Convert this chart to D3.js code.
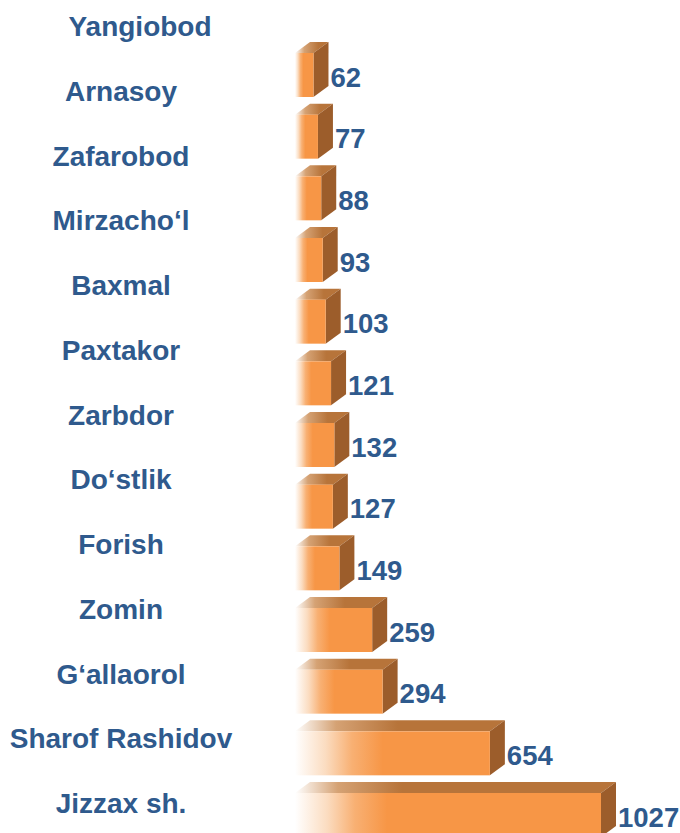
<!DOCTYPE html>
<html>
<head>
<meta charset="utf-8">
<script src="https://cdn.jsdelivr.net/npm/d3@7"></script>
<style>
  body { margin: 0; background: #fff; }
  text { font-family: "Liberation Sans", Arial, sans-serif; font-weight: bold; fill: #2F5A8D; }
</style>
</head>
<body>
<svg id="chart"></svg>
<script>
// districts, top to bottom
var districts = ["Yangiobod", "Arnasoy", "Zafarobod", "Mirzacho\u2018l", "Baxmal", "Paxtakor",
  "Zarbdor", "Do\u2018stlik", "Forish", "Zomin", "G\u2018allaorol", "Sharof Rashidov", "Jizzax sh."];
var counts = [62, 77, 88, 93, 103, 121, 132, 127, 149, 259, 294, 654, 1027];

var width = 680, height = 833;
var barH = 44, depthX = 15, depthY = 11;

var svg = d3.select('#chart').attr('width', width).attr('height', height);
var defs = svg.append('defs');

// bars and labels don't share the same vertical spacing in the original
var yBar = d3.scalePoint().domain(d3.range(counts.length)).range([75, 815]);
var yLab = d3.scalePoint().domain(d3.range(districts.length)).range([36, 813]);
var x = d3.scaleLinear().domain([0, d3.max(counts)]).range([295, 601]);

var data = counts.map(function(v, i) { return { name: districts[i], value: v, i: i }; });

// left edge of every bar fades out to white
data.forEach(function(d) {
  var w = x(d.value) - x(0);
  var fade = Math.min(w * 0.45, 92);
  var gf = defs.append('linearGradient').attr('id', 'gf' + d.i)
    .attr('gradientUnits', 'userSpaceOnUse')
    .attr('x1', x(0)).attr('x2', x(0) + fade).attr('y1', 0).attr('y2', 0);
  gf.append('stop').attr('offset', 0).attr('stop-color', '#FFFFFF');
  gf.append('stop').attr('offset', 0.35).attr('stop-color', '#FBDCC0');
  gf.append('stop').attr('offset', 0.65).attr('stop-color', '#F8B073');
  gf.append('stop').attr('offset', 1).attr('stop-color', '#F79646');
  var gt = defs.append('linearGradient').attr('id', 'gt' + d.i)
    .attr('gradientUnits', 'userSpaceOnUse')
    .attr('x1', x(0)).attr('x2', x(0) + fade + depthX).attr('y1', 0).attr('y2', 0);
  gt.append('stop').attr('offset', 0).attr('stop-color', '#FFFFFF');
  gt.append('stop').attr('offset', 0.4).attr('stop-color', '#D5A274');
  gt.append('stop').attr('offset', 1).attr('stop-color', '#B7743A');
});

var bars = svg.selectAll('.bar').data(data).enter().append('g').attr('class', 'bar');

// top face
bars.append('path')
  .attr('d', function(d) {
    var x0 = x(0), x1 = x(d.value), t = yBar(d.i) - barH / 2;
    return 'M' + x0 + ',' + t + 'L' + (x0 + depthX) + ',' + (t - depthY) +
           'L' + (x1 + depthX) + ',' + (t - depthY) + 'L' + x1 + ',' + t + 'Z';
  })
  .attr('fill', function(d) { return 'url(#gt' + d.i + ')'; });

// side face
bars.append('path')
  .attr('d', function(d) {
    var x1 = x(d.value), t = yBar(d.i) - barH / 2;
    return 'M' + x1 + ',' + t + 'L' + (x1 + depthX) + ',' + (t - depthY) +
           'L' + (x1 + depthX) + ',' + (t + barH - depthY) + 'L' + x1 + ',' + (t + barH) + 'Z';
  })
  .attr('fill', '#9C5D2B');

// front face
bars.append('rect')
  .attr('x', x(0))
  .attr('y', function(d) { return yBar(d.i) - barH / 2; })
  .attr('width', function(d) { return x(d.value) - x(0); })
  .attr('height', barH)
  .attr('fill', function(d) { return 'url(#gf' + d.i + ')'; });

// value labels
svg.selectAll('.val').data(data).enter().append('text')
  .attr('class', 'val')
  .attr('x', function(d) { return x(d.value) + depthX + 2; })
  .attr('y', function(d) { return yBar(d.i) + 2; })
  .attr('dy', '0.35em')
  .style('font-size', '27.5px')
  .text(function(d) { return d.value; });

// district names (the first one sits a bit further right in the original)
svg.selectAll('.name').data(data).enter().append('text')
  .attr('class', 'name')
  .attr('x', function(d) { return d.i === 0 ? 140 : 121; })
  .attr('y', function(d) { return yLab(d.i); })
  .attr('text-anchor', 'middle')
  .style('font-size', '28px')
  .text(function(d) { return d.name; });
</script>
</body>
</html>
